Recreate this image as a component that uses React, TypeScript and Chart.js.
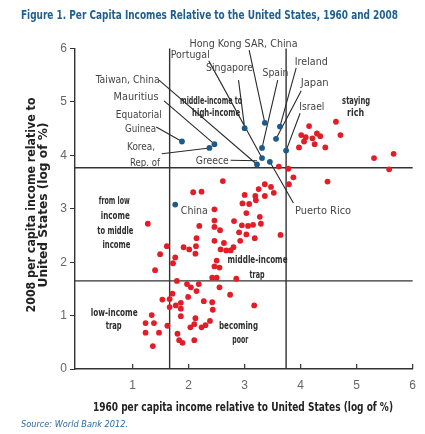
import React, { useEffect, useRef } from 'react';
import { Chart, registerables } from 'chart.js';

Chart.register(...registerables);

// ---------- data ----------
const X_TICKS = [1, 2, 3, 4, 5, 6];
const Y_TICKS = [0, 1, 2, 3, 4, 5, 6];
const X_THRESHOLDS = [1.66, 3.74];
const Y_THRESHOLDS = [1.65, 3.77];

// red points: economies (1960 log %, 2008 log %)
const redX = [
  4.15, 4.63, 4.71, 4.01, 4.09, 4.06, 4.21, 4.29, 4.35, 4.25, 3.97, 4.44, 5.31, 5.66, 3.61, 3.78, 5.58,
  3.87, 3.79, 4.48, 2.61, 2.08, 2.23, 3.0, 2.96, 3.08, 3.03, 3.19, 3.25, 3.36, 3.47, 3.52, 3.36, 3.2, 3.27,
  2.46, 2.46, 2.19, 2.46, 2.56, 2.81, 2.95, 3.06, 3.15, 3.29, 2.9, 3.03, 3.18, 2.92, 3.64, 2.14, 2.46, 2.63,
  1.91, 2.01, 2.13, 2.12, 2.57, 2.67, 2.75, 2.8, 1.61, 1.49, 1.76, 1.72, 2.5, 2.46, 2.55, 1.4, 1.27, 2.85,
  1.79, 2.42, 2.5, 1.97, 2.04, 2.18, 2.14, 2.55, 1.71, 1.99, 2.74, 1.53, 1.66, 2.27, 2.42, 1.66, 1.77, 1.86,
  1.86, 2.43, 3.17, 1.86, 1.34, 1.38, 1.23, 2.12, 2.38, 2.1, 2.03, 2.3, 2.23, 1.62, 1.23, 1.47, 1.8, 1.83,
  1.89, 2.1, 1.36,
];
const redY = [
  4.55, 4.63, 4.38, 4.38, 4.34, 4.26, 4.32, 4.41, 4.36, 4.21, 4.15, 4.15, 3.95, 4.03, 3.79, 3.75, 3.74,
  3.59, 3.46, 3.51, 3.52, 3.31, 3.32, 3.26, 3.1, 3.09, 2.92, 3.24, 3.37, 3.46, 3.41, 3.3, 3.24, 3.16, 2.85,
  2.99, 2.78, 2.68, 2.66, 2.6, 2.77, 2.69, 2.68, 2.7, 2.72, 2.56, 2.52, 2.45, 2.4, 2.51, 2.45, 2.4, 2.36,
  2.28, 2.24, 2.3, 2.16, 2.24, 2.22, 2.22, 2.28, 2.3, 2.15, 2.09, 1.98, 2.03, 1.92, 1.9, 1.85, 2.72, 1.69,
  1.65, 1.71, 1.71, 1.59, 1.53, 1.59, 1.46, 1.53, 1.41, 1.35, 1.39, 1.3, 1.31, 1.27, 1.25, 1.16, 1.19, 1.24,
  1.13, 1.11, 1.19, 0.99, 1.01, 0.86, 0.86, 0.95, 0.9, 0.84, 0.78, 0.82, 0.78, 0.81, 0.68, 0.68, 0.66, 0.54,
  0.49, 0.54, 0.43,
];

// blue points: economies that moved up
const blueX = [1.88, 2.37, 2.46, 3.0, 3.36, 3.63, 3.56, 3.31, 3.74, 3.31, 3.45, 3.22, 1.76];
const blueY = [4.26, 4.14, 4.21, 4.51, 4.61, 4.54, 4.31, 4.14, 4.09, 3.95, 3.88, 3.83, 3.08];

// country labels: text, anchor (data units), alignment, fitted width, leader line (data units)
const countryLabels = [
  { t: 'Hong Kong SAR, China', x: 2.98, y: 6.09, a: 'center', w: 108, l: [3.08, 5.97, 3.36, 4.61] },
  { t: 'Portugal', x: 1.68, y: 5.88, a: 'left', w: 39, l: [2.36, 5.77, 3.31, 3.95] },
  { t: 'Singapore', x: 2.73, y: 5.64, a: 'center', w: 47, l: [2.89, 5.41, 3.0, 4.51] },
  { t: 'Spain', x: 3.55, y: 5.54, a: 'center', w: 26, l: [3.59, 5.41, 3.31, 4.14] },
  { t: 'Ireland', x: 4.19, y: 5.75, a: 'center', w: 33, l: [3.92, 5.64, 3.63, 4.54] },
  { t: 'Japan', x: 4.25, y: 5.35, a: 'center', w: 28, l: [4.01, 5.21, 3.56, 4.31] },
  { t: 'Israel', x: 4.2, y: 4.9, a: 'center', w: 25, l: [3.99, 4.79, 3.74, 4.09] },
  { t: 'Taiwan, China', x: 0.91, y: 5.41, a: 'center', w: 64, l: [1.47, 5.41, 3.22, 3.83] },
  { t: 'Mauritius', x: 1.06, y: 5.1, a: 'center', w: 45, l: [1.56, 5.02, 2.46, 4.21] },
  { t: 'Equatorial', x: 1.11, y: 4.76, a: 'center', w: 46, l: null },
  { t: 'Guinea', x: 1.14, y: 4.49, a: 'center', w: 31, l: [1.42, 4.53, 1.88, 4.26] },
  { t: 'Korea,', x: 1.15, y: 4.16, a: 'center', w: 28, l: [1.52, 4.03, 2.37, 4.14] },
  { t: 'Rep. of', x: 1.22, y: 3.85, a: 'center', w: 30, l: null },
  { t: 'Greece', x: 2.42, y: 3.9, a: 'center', w: 33, l: [2.75, 3.91, 3.22, 3.9] },
  { t: 'China', x: 1.86, y: 2.95, a: 'left', w: 27, l: null },
  { t: 'Puerto Rico', x: 3.9, y: 2.95, a: 'left', w: 56, l: [3.45, 3.88, 3.87, 3.11] },
];

// bold quadrant labels
const zoneLabels = [
  { t: 'middle-income to', x: 2.4, y: 5.02, w: 62 },
  { t: 'high-income', x: 2.49, y: 4.78, w: 48 },
  { t: 'staying', x: 4.99, y: 5.02, w: 28 },
  { t: 'rich', x: 4.98, y: 4.79, w: 17 },
  { t: 'from low', x: 0.67, y: 3.13, w: 31 },
  { t: 'income', x: 0.69, y: 2.85, w: 29 },
  { t: 'to middle', x: 0.69, y: 2.58, w: 36 },
  { t: 'income', x: 0.71, y: 2.32, w: 28 },
  { t: 'middle-income', x: 3.23, y: 2.04, w: 60 },
  { t: 'trap', x: 3.22, y: 1.76, w: 15 },
  { t: 'low-income', x: 0.67, y: 1.05, w: 47 },
  { t: 'trap', x: 0.66, y: 0.79, w: 16 },
  { t: 'becoming', x: 2.89, y: 0.79, w: 39 },
  { t: 'poor', x: 2.92, y: 0.54, w: 16 },
];

const TITLE = 'Figure 1. Per Capita Incomes Relative to the United States, 1960 and 2008';
const X_TITLE = '1960 per capita income relative to United States (log of %)';
const Y_TITLE_1 = '2008 per capita income relative to';
const Y_TITLE_2 = 'United States (log of %)';
const SOURCE = 'Source: World Bank 2012.';

// ---------- styles ----------
const NARROW = '"Liberation Sans Narrow", "DejaVu Sans Condensed", "Arial Narrow", sans-serif';
const RED = '#e31d27';
const BLUE = '#1c5b8b';
const LINE = '#333333';

function drawFit(
  ctx: CanvasRenderingContext2D,
  text: string,
  x: number,
  y: number,
  font: string,
  color: string,
  align: CanvasTextAlign,
  width: number,
  rotate = false,
) {
  ctx.save();
  ctx.font = font;
  ctx.fillStyle = color;
  ctx.textBaseline = 'middle';
  ctx.textAlign = align;
  const m = ctx.measureText(text).width;
  const s = width && m > 0 ? width / m : 1;
  ctx.translate(x, y);
  if (rotate) ctx.rotate(-Math.PI / 2);
  ctx.scale(s, 1);
  ctx.fillText(text, 0, 0);
  ctx.restore();
}

const overlay = {
  id: 'overlay',
  beforeDatasetsDraw(chart: any) {
    const { ctx, chartArea } = chart;
    const xs = chart.scales.x;
    const ys = chart.scales.y;
    ctx.save();
    ctx.strokeStyle = LINE;
    ctx.lineWidth = 1.4;
    ctx.beginPath();
    X_THRESHOLDS.forEach((v) => {
      const p = xs.getPixelForValue(v);
      ctx.moveTo(p, chartArea.top);
      ctx.lineTo(p, chartArea.bottom);
    });
    Y_THRESHOLDS.forEach((v) => {
      const p = ys.getPixelForValue(v);
      ctx.moveTo(chartArea.left, p);
      ctx.lineTo(chartArea.right, p);
    });
    ctx.stroke();
    // leader lines
    ctx.lineWidth = 1.1;
    ctx.strokeStyle = '#2a2a2a';
    ctx.beginPath();
    countryLabels.forEach((c) => {
      if (!c.l) return;
      ctx.moveTo(xs.getPixelForValue(c.l[0]), ys.getPixelForValue(c.l[1]));
      ctx.lineTo(xs.getPixelForValue(c.l[2]), ys.getPixelForValue(c.l[3]));
    });
    ctx.stroke();
    ctx.restore();
  },
  afterDatasetsDraw(chart: any) {
    const { ctx } = chart;
    const xs = chart.scales.x;
    const ys = chart.scales.y;
    countryLabels.forEach((c) => {
      drawFit(ctx, c.t, xs.getPixelForValue(c.x), ys.getPixelForValue(c.y), `11px ${NARROW}`, '#444444', c.a as CanvasTextAlign, c.w);
    });
    zoneLabels.forEach((z) => {
      drawFit(ctx, z.t, xs.getPixelForValue(z.x), ys.getPixelForValue(z.y), `bold 10px ${NARROW}`, '#2e2e2e', 'center', z.w);
    });
  },
  afterDraw(chart: any) {
    const { ctx, chartArea } = chart;
    const xs = chart.scales.x;
    // inward x ticks
    ctx.save();
    ctx.strokeStyle = LINE;
    ctx.lineWidth = 1.2;
    ctx.beginPath();
    X_TICKS.forEach((v) => {
      const p = xs.getPixelForValue(v);
      ctx.moveTo(p, chartArea.bottom);
      ctx.lineTo(p, chartArea.bottom - 5);
    });
    ctx.stroke();
    ctx.restore();
    drawFit(ctx, TITLE, 21, 16, `bold 12.5px ${NARROW}`, '#1d5f91', 'left', 377);
    drawFit(ctx, X_TITLE, 243, 408, `bold 12px ${NARROW}`, '#222222', 'center', 300);
    drawFit(ctx, Y_TITLE_1, 32, 205, `bold 12px ${NARROW}`, '#222222', 'center', 215, true);
    drawFit(ctx, Y_TITLE_2, 44, 205, `bold 12px ${NARROW}`, '#222222', 'center', 165, true);
    drawFit(ctx, SOURCE, 21, 425, `italic 9.5px ${NARROW}`, '#2a6aa5', 'left', 107);
  },
};

export default function App() {
  const ref = useRef<HTMLCanvasElement | null>(null);

  useEffect(() => {
    if (!ref.current) return;
    const chart = new Chart(ref.current, {
      type: 'scatter',
      data: {
        datasets: [
          {
            label: 'Others',
            data: redX.map((x, i) => ({ x, y: redY[i] })),
            pointRadius: 2.9,
            pointBackgroundColor: RED,
            pointBorderWidth: 0,
          },
          {
            label: 'Moved up',
            data: blueX.map((x, i) => ({ x, y: blueY[i] })),
            pointRadius: 2.9,
            pointBackgroundColor: BLUE,
            pointBorderWidth: 0,
          },
        ],
      },
      options: {
        responsive: false,
        animation: false,
        events: [],
        layout: { padding: { top: 48.6, right: 5, left: 0, bottom: 0 } },
        plugins: { legend: { display: false }, tooltip: { enabled: false }, title: { display: false } },
        scales: {
          x: {
            type: 'linear',
            min: -0.03,
            max: 6,
            afterFit: (s: any) => {
              s.height = 65;
            },
            afterBuildTicks: (s: any) => {
              s.ticks = X_TICKS.map((v) => ({ value: v }));
            },
            ticks: {
              color: '#666666',
              font: { family: '"Liberation Sans", Arial, sans-serif', size: 12 },
              padding: 9,
              maxRotation: 0,
              autoSkip: false,
            },
            grid: { display: true, drawOnChartArea: false, drawTicks: false, color: LINE },
            border: { display: true, color: LINE, width: 1.4 },
          },
          y: {
            type: 'linear',
            min: 0,
            max: 6,
            afterFit: (s: any) => {
              s.width = 75;
            },
            afterBuildTicks: (s: any) => {
              s.ticks = Y_TICKS.map((v) => ({ value: v }));
            },
            ticks: {
              color: '#666666',
              font: { family: '"Liberation Sans", Arial, sans-serif', size: 12 },
              padding: 3,
              autoSkip: false,
            },
            grid: { display: true, drawOnChartArea: false, drawTicks: true, tickLength: 5, color: LINE },
            border: { display: true, color: LINE, width: 1.4 },
          },
        },
      },
      plugins: [overlay],
    });
    return () => chart.destroy();
  }, []);

  return (
    <div style={{ position: 'absolute', left: 0, top: 0, width: 425, height: 434, background: '#ffffff' }}>
      <canvas ref={ref} width={425} height={434} style={{ display: 'block' }} />
    </div>
  );
}
